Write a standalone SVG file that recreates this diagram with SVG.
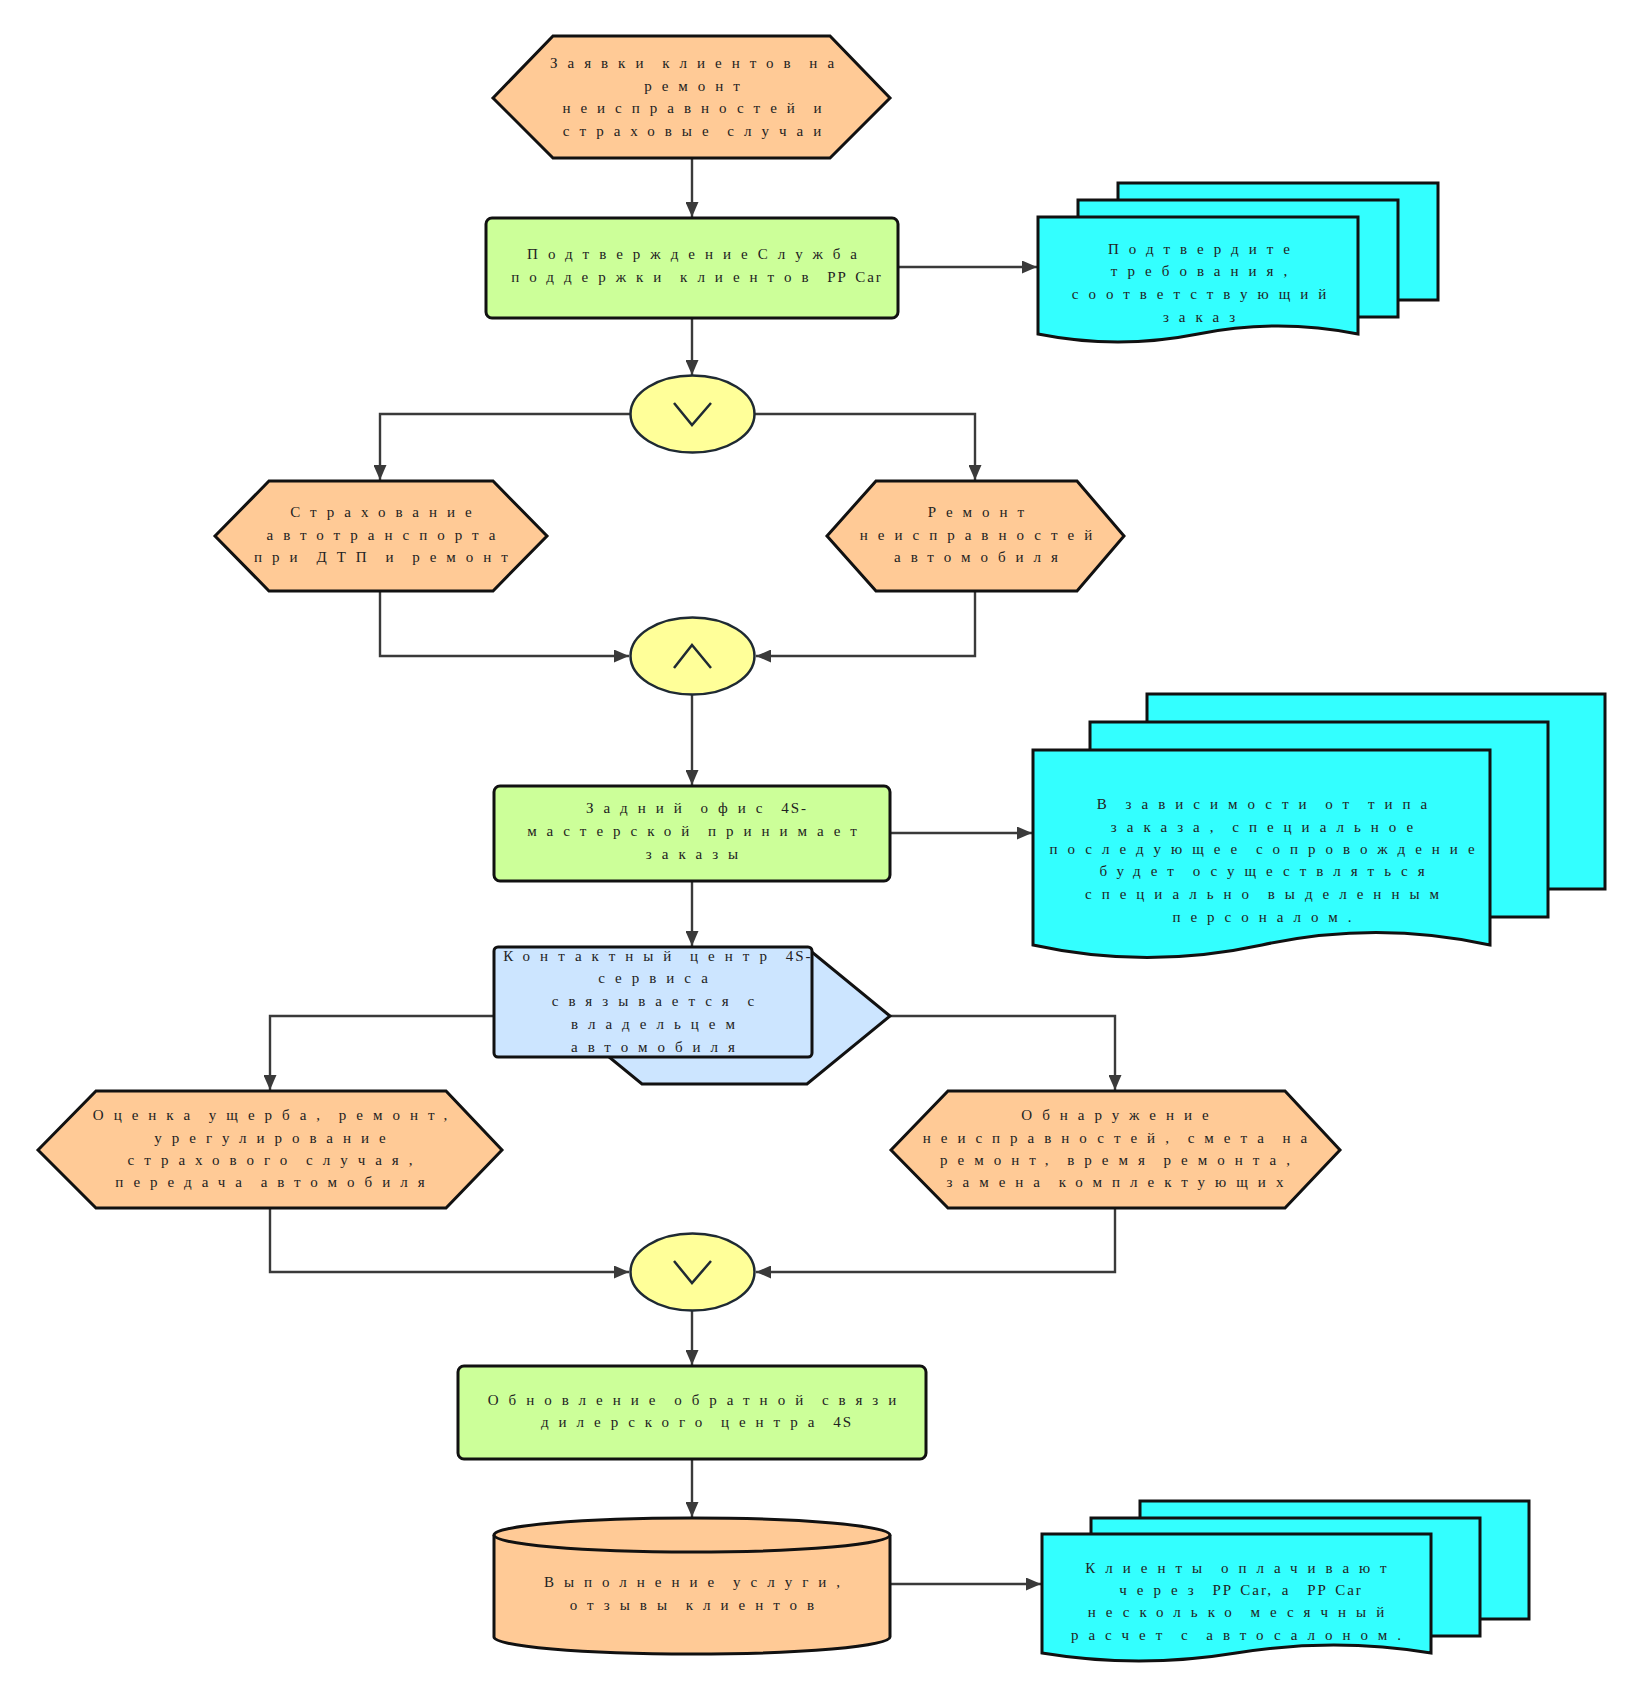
<svg xmlns="http://www.w3.org/2000/svg" width="1642" height="1706" viewBox="0 0 1642 1706">
<style>
.t{font-family:"Liberation Serif","DejaVu Serif",serif;font-size:15px;fill:#222;letter-spacing:10px;word-spacing:-5px;text-anchor:middle}
.lat{letter-spacing:2px;word-spacing:2px}
.hex{fill:#FFCA96;stroke:#111;stroke-width:3;stroke-linejoin:miter}
.proc{fill:#CCFF99;stroke:#111;stroke-width:3}
.doc{fill:#33FFFF;stroke:#111;stroke-width:3;stroke-linejoin:miter}
.gw{fill:#FFFF99;stroke:#1f2a33;stroke-width:2.5}
.sym{fill:none;stroke:#1f2a33;stroke-width:2.5}
.blue{fill:#CCE5FF;stroke:#111;stroke-width:3}
.cyl{fill:#FFCA96;stroke:#111;stroke-width:3}
.c{fill:none;stroke:#3a3a3a;stroke-width:2.4}
</style>
<defs>
<marker id="ar" markerUnits="userSpaceOnUse" markerWidth="16" markerHeight="13" refX="15" refY="6.5" orient="auto">
<path d="M0,0 L15,6.5 L0,13 z" fill="#3a3a3a"/>
</marker>
</defs>
<rect width="1642" height="1706" fill="#fff"/>

<g id="connectors">
<path class="c" d="M692,158 V217" marker-end="url(#ar)"/>
<path class="c" d="M692,318 V375" marker-end="url(#ar)"/>
<path class="c" d="M898,267 H1037" marker-end="url(#ar)"/>
<path class="c" d="M630,414 H380 V480" marker-end="url(#ar)"/>
<path class="c" d="M755,414 H975 V480" marker-end="url(#ar)"/>
<path class="c" d="M380,591 V656 H629" marker-end="url(#ar)"/>
<path class="c" d="M975,591 V656 H756" marker-end="url(#ar)"/>
<path class="c" d="M692,695 V785" marker-end="url(#ar)"/>
<path class="c" d="M890,833 H1032" marker-end="url(#ar)"/>
<path class="c" d="M692,881 V946" marker-end="url(#ar)"/>
<path class="c" d="M494,1016 H270 V1090" marker-end="url(#ar)"/>
<path class="c" d="M890,1016 H1115 V1090" marker-end="url(#ar)"/>
<path class="c" d="M270,1208 V1272 H629" marker-end="url(#ar)"/>
<path class="c" d="M1115,1208 V1272 H756" marker-end="url(#ar)"/>
<path class="c" d="M692,1311 V1365" marker-end="url(#ar)"/>
<path class="c" d="M692,1459 V1517" marker-end="url(#ar)"/>
<path class="c" d="M890,1584 H1041" marker-end="url(#ar)"/>
</g>

<g id="n1">
<polygon class="hex" points="493,98 553,36 830,36 890,98 830,158 553,158"/>
<text class="t"><tspan x="697" y="68">Заявки клиентов на</tspan><tspan x="697" y="91">ремонт</tspan><tspan x="697" y="113">неисправностей и</tspan><tspan x="697" y="136">страховые случаи</tspan></text>
</g>

<g id="n2">
<rect class="proc" x="486" y="218" width="412" height="100" rx="6"/>
<text class="t"><tspan x="697" y="259">ПодтверждениеСлужба</tspan><tspan x="697" y="282">поддержки клиентов <tspan class="lat">PP Car</tspan></tspan></text>
</g>

<g id="n3">
<rect class="doc" x="1118" y="183" width="320" height="117"/>
<rect class="doc" x="1078" y="200" width="320" height="117"/>
<path class="doc" d="M1038,217 H1358 V334 Q1278,318 1198,334 Q1118,350 1038,334 Z"/>
<text class="t"><tspan x="1204" y="254">Подтвердите</tspan><tspan x="1204" y="276">требования,</tspan><tspan x="1204" y="299">соответствующий</tspan><tspan x="1204" y="322">заказ</tspan></text>
</g>

<g id="n4">
<ellipse class="gw" cx="692.5" cy="414" rx="62" ry="38.5"/>
<path class="sym" d="M674,403 L692,425 L711,403"/>
</g>

<g id="n5">
<polygon class="hex" points="215,536 269,481 493,481 547,536 493,591 269,591"/>
<text class="t"><tspan x="386" y="517">Страхование</tspan><tspan x="386" y="540">автотранспорта</tspan><tspan x="386" y="562">при ДТП и ремонт</tspan></text>
</g>

<g id="n6">
<polygon class="hex" points="827,536 876,481 1077,481 1124,536 1077,591 876,591"/>
<text class="t"><tspan x="981" y="517">Ремонт</tspan><tspan x="981" y="540">неисправностей</tspan><tspan x="981" y="562">автомобиля</tspan></text>
</g>

<g id="n7">
<ellipse class="gw" cx="692.5" cy="656" rx="62" ry="38.5"/>
<path class="sym" d="M674,668 L692,645 L711,668"/>
</g>

<g id="n8">
<rect class="proc" x="494" y="786" width="396" height="95" rx="6"/>
<text class="t"><tspan x="697" y="813">Задний офис <tspan class="lat">4S-</tspan></tspan><tspan x="697" y="836">мастерской принимает</tspan><tspan x="697" y="859">заказы</tspan></text>
</g>

<g id="n9">
<rect class="doc" x="1147" y="694" width="458" height="195"/>
<rect class="doc" x="1090" y="722" width="458" height="195"/>
<path class="doc" d="M1033,750 H1490 V945 Q1376,920 1262,945 Q1147,970 1033,945 Z"/>
<text class="t"><tspan x="1267" y="809">В зависимости от типа</tspan><tspan x="1267" y="832">заказа, специальное</tspan><tspan x="1267" y="854">последующее сопровождение</tspan><tspan x="1267" y="876">будет осуществляться</tspan><tspan x="1267" y="899">специально выделенным</tspan><tspan x="1267" y="922">персоналом.</tspan></text>
</g>

<g id="n10">
<polygon class="blue" points="559,1016 642,948 807,948 890,1016 807,1084 642,1084"/>
<rect class="blue" x="494" y="947" width="318" height="110" rx="4"/>
<text class="t"><tspan x="658" y="961">Контактный центр <tspan class="lat">4S-</tspan></tspan><tspan x="658" y="983">сервиса</tspan><tspan x="658" y="1006">связывается с</tspan><tspan x="658" y="1029">владельцем</tspan><tspan x="658" y="1052">автомобиля</tspan></text>
</g>

<g id="n11">
<polygon class="hex" points="38,1150 96,1091 446,1091 502,1150 446,1208 96,1208"/>
<text class="t"><tspan x="275" y="1120">Оценка ущерба, ремонт,</tspan><tspan x="275" y="1143">урегулирование</tspan><tspan x="275" y="1165">страхового случая,</tspan><tspan x="275" y="1187">передача автомобиля</tspan></text>
</g>

<g id="n12">
<polygon class="hex" points="891,1150 948,1091 1285,1091 1340,1150 1285,1208 948,1208"/>
<text class="t"><tspan x="1120" y="1120">Обнаружение</tspan><tspan x="1120" y="1143">неисправностей, смета на</tspan><tspan x="1120" y="1165">ремонт, время ремонта,</tspan><tspan x="1120" y="1187">замена комплектующих</tspan></text>
</g>

<g id="n13">
<ellipse class="gw" cx="692.5" cy="1272" rx="62" ry="38.5"/>
<path class="sym" d="M674,1261 L692,1283 L711,1261"/>
</g>

<g id="n14">
<rect class="proc" x="458" y="1366" width="468" height="93" rx="6"/>
<text class="t"><tspan x="697" y="1405">Обновление обратной связи</tspan><tspan x="697" y="1427">дилерского центра <tspan class="lat">4S</tspan></tspan></text>
</g>

<g id="n15">
<path class="cyl" d="M494,1535 V1637 A198,17 0 0 0 890,1637 V1535"/>
<ellipse class="cyl" cx="692" cy="1535" rx="198" ry="17"/>
<text class="t"><tspan x="697" y="1587">Выполнение услуги,</tspan><tspan x="697" y="1610">отзывы клиентов</tspan></text>
</g>

<g id="n16">
<rect class="doc" x="1140" y="1501" width="389" height="118"/>
<rect class="doc" x="1091" y="1518" width="389" height="118"/>
<path class="doc" d="M1042,1534 H1431 V1653 Q1334,1637 1236,1653 Q1139,1669 1042,1653 Z"/>
<text class="t"><tspan x="1241" y="1573">Клиенты оплачивают</tspan><tspan x="1241" y="1595">через <tspan class="lat">PP Car,</tspan> а <tspan class="lat">PP Car</tspan></tspan><tspan x="1241" y="1617">несколько месячный</tspan><tspan x="1241" y="1640">расчет с автосалоном.</tspan></text>
</g>
</svg>
